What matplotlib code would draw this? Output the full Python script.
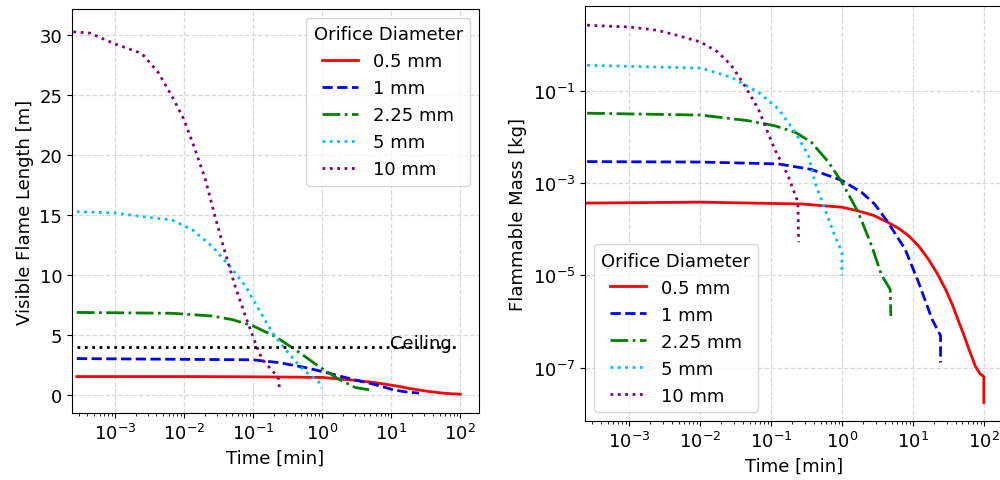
import numpy as np
import matplotlib
matplotlib.use("Agg")
import matplotlib.pyplot as plt

# ---- data (log10 of time in minutes) ----
labels = ["0.5 mm", "1 mm", "2.25 mm", "5 mm", "10 mm"]
colors = ["red", "blue", "green", "deepskyblue", "purple"]
styles = ["-", "--", "-.", ":", ":"]

# visible flame length [m]
lt_len_05 = [-3.55, -2.0, -1.0, 0.0, 0.45, 0.72, 1.06, 1.3, 1.55, 1.8, 2.0]
len_05 = [1.55, 1.55, 1.53, 1.48, 1.25, 1.08, 0.78, 0.52, 0.3, 0.14, 0.08]
lt_len_1 = [-3.55, -1.01, -0.63, -0.24, 0.05, 0.43, 0.72, 1.03, 1.2, 1.40]
len_1 = [3.05, 2.95, 2.72, 2.3, 1.9, 1.33, 0.95, 0.45, 0.28, 0.17]
lt_len_225 = [-3.55, -2.17, -1.59, -1.30, -1.01, -0.68, -0.34, -0.05, 0.24, 0.48, 0.68]
len_225 = [6.9, 6.83, 6.6, 6.3, 5.8, 4.9, 3.6, 2.4, 1.33, 0.64, 0.45]
lt_len_5 = [-3.55, -3.0, -2.61, -2.17, -1.88, -1.59, -1.30, -1.11, -0.92,
            -0.72, -0.53, -0.29, -0.05, -0.01]
len_5 = [15.3, 15.2, 14.9, 14.6, 13.8, 12.4, 10.5, 9.1, 7.2,
         5.2, 3.8, 2.2, 1.1, 0.56]
lt_len_10 = [-3.60, -3.36, -3.0, -2.66, -2.58, -2.37, -2.17, -2.0, -1.84, -1.69,
             -1.55, -1.40, -1.26, -1.11, -0.99, -0.87, -0.70, -0.63, -0.62]
len_10 = [30.3, 30.2, 29.3, 28.6, 28.3, 26.9, 24.9, 23.0, 20.5, 18.0,
          14.9, 11.8, 9.1, 6.6, 4.7, 3.0, 1.9, 1.33, 0.64]

ceiling_height = 4.0
ceiling_lt = [-3.55, 1.95]

# flammable mass, log10 [kg]
lt_m_05 = [-3.59, -1.99, -0.57, 0.0, 0.23, 0.45, 0.65, 0.80, 0.94, 1.08, 1.22,
           1.34, 1.46, 1.56, 1.65, 1.72, 1.79, 1.88, 1.94, 2.0, 2.0]
m_05 = [-3.43, -3.41, -3.45, -3.52, -3.60, -3.70, -3.85, -3.98, -4.14, -4.36, -4.65,
        -4.95, -5.30, -5.65, -6.02, -6.30, -6.60, -6.97, -7.12, -7.2, -7.76]
lt_m_1 = [-3.59, -1.99, -0.90, -0.43, 0.0, 0.28, 0.46, 0.65, 0.89, 1.08, 1.27, 1.39, 1.39]
m_1 = [-2.53, -2.54, -2.58, -2.70, -2.94, -3.20, -3.45, -3.85, -4.43, -5.15, -5.95, -6.31, -6.89]
lt_m_225 = [-3.59, -1.99, -1.33, -0.95, -0.66, -0.43, -0.19, 0.0, 0.23, 0.42, 0.56, 0.68, 0.69]
m_225 = [-1.48, -1.52, -1.64, -1.75, -1.89, -2.11, -2.54, -2.98, -3.63, -4.36, -5.0, -5.30, -5.88]
lt_m_5 = [-3.59, -1.99, -1.56, -1.18, -0.9, -0.66, -0.47, -0.38, -0.24, -0.10, 0.0, 0.0]
m_5 = [-0.44, -0.5, -0.70, -1.02, -1.38, -1.89, -2.40, -2.98, -3.56, -4.14, -4.5, -5.0]
lt_m_10 = [-3.59, -2.98, -2.6, -2.32, -1.99, -1.75, -1.56, -1.37, -1.18, -0.95,
           -0.76, -0.62, -0.61]
m_10 = [0.43, 0.39, 0.32, 0.21, 0.065, -0.15, -0.44, -0.88, -1.38, -2.25,
        -2.83, -3.41, -4.28]

len_series = [(lt_len_05, len_05), (lt_len_1, len_1), (lt_len_225, len_225),
              (lt_len_5, len_5), (lt_len_10, len_10)]
mass_series = [(lt_m_05, m_05), (lt_m_1, m_1), (lt_m_225, m_225),
               (lt_m_5, m_5), (lt_m_10, m_10)]

plt.rcParams["font.size"] = 13

fig = plt.figure(figsize=(10, 4.81), dpi=100)
ax1 = fig.add_axes([0.072, 0.139, 0.407, 0.840])
ax2 = fig.add_axes([0.585, 0.1227, 0.418, 0.863])

xlim = (10 ** -3.62, 10 ** 2.27)
grid_kw = dict(color="#d9d9d9", linestyle="--", linewidth=0.9)
lw = 2.0

# ---- left: flame length ----
for (lt, v), lab, c, ls in zip(len_series, labels, colors, styles):
    ax1.plot(10 ** np.array(lt), v, color=c, linestyle=ls, lw=lw, label=lab)
ax1.plot(10 ** np.array(ceiling_lt), [ceiling_height] * 2, color="black",
         linestyle=":", lw=lw)
ax1.text(10 ** 0.98, ceiling_height - 0.05, "Ceiling", ha="left", va="baseline")
ax1.set_xscale("log")
ax1.set_xlim(*xlim)
ax1.set_ylim(-1.5, 32.2)
ax1.set_xlabel("Time [min]")
ax1.set_ylabel("Visible Flame Length [m]")
ax1.grid(True, **grid_kw)
ax1.legend(title="Orifice Diameter", loc="upper right")

# ---- right: flammable mass ----
for (lt, v), lab, c, ls in zip(mass_series, labels, colors, styles):
    ax2.plot(10 ** np.array(lt), 10 ** np.array(v), color=c, linestyle=ls,
             lw=lw, label=lab)
ax2.set_xscale("log")
ax2.set_yscale("log")
ax2.set_xlim(*xlim)
ax2.set_ylim(10 ** -8.16, 10 ** 0.85)
ax2.set_yticks([1e-1, 1e-3, 1e-5, 1e-7])
ax2.yaxis.set_minor_locator(matplotlib.ticker.NullLocator())
ax2.set_xlabel("Time [min]")
ax2.set_ylabel("Flammable Mass [kg]")
ax2.grid(True, **grid_kw)
ax2.legend(title="Orifice Diameter", loc="lower left")

fig.savefig("out.png", dpi=100)
